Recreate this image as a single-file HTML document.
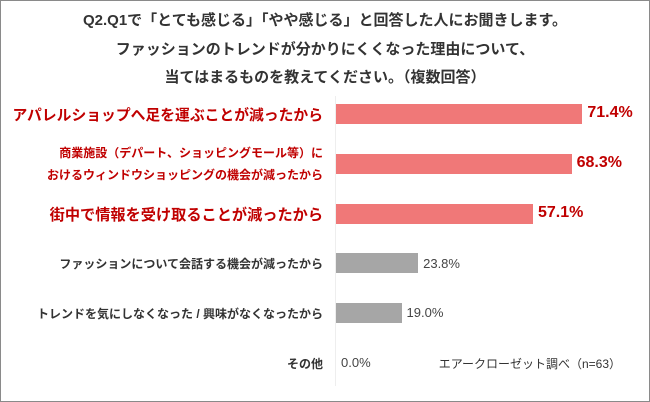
<!DOCTYPE html>
<html><head><meta charset="utf-8"><style>
body{margin:0;background:#fff;font-family:"Liberation Sans","Noto Sans CJK JP",sans-serif;}
#wrap{position:relative;width:648px;height:400px;border:1px solid #8a8a8a;overflow:hidden;}
.t{position:absolute;left:0;width:648px;text-align:center;font-weight:bold;font-size:15px;color:#333;}
.lab{position:absolute;right:326px;text-align:right;font-weight:bold;white-space:nowrap;}
.val{position:absolute;white-space:nowrap;}
</style></head><body>
<div id="wrap">
<div class="t" style="top:8px">Q2.Q1で「とても感じる」「やや感じる」と回答した人にお聞きします。</div>
<div class="t" style="top:37px">ファッションのトレンドが分かりにくくなった理由について、</div>
<div class="t" style="top:65px">当てはまるものを教えてください。（複数回答）</div>
<div style="position:absolute;left:334px;top:95px;width:1px;height:290px;background:#eee"></div>
<div style="position:absolute;right:28px;top:354px;font-size:12px;color:#333">エアークローゼット調べ（n=63）</div>
<div id="rows"></div>
</div>
<script>
const categories=["アパレルショップへ足を運ぶことが減ったから","商業施設（デパート、ショッピングモール等）に<br>おけるウィンドウショッピングの機会が減ったから","街中で情報を受け取ることが減ったから","ファッションについて会話する機会が減ったから","トレンドを気にしなくなった / 興味がなくなったから","その他"];
const values=[71.4,68.3,57.1,23.8,19.0,0.0];
const highlight=[true,true,true,false,false,false];
const x0=335,scale=3.45,y0=113,step=49.8,bh=20;
const xs=v=>x0+v*scale;
const wrap=document.getElementById('rows');
categories.forEach((c,i)=>{
 const cy=y0+i*step,hl=highlight[i];
 const lab=document.createElement('div');
 lab.className='lab';
 
 
 lab.innerHTML=c;
 let fs=hl?(i==1?12:(i==0?14.8:15.2)):12;
 lab.style.fontSize=fs+'px';
 lab.style.color=hl?'#c00000':'#333';
 if(i==1){lab.style.lineHeight='22px';lab.style.top=(cy-22)+'px';}
 else{lab.style.top=(cy-fs*0.7)+'px';}
 wrap.appendChild(lab);
 if(values[i]>0){
  const b=document.createElement('div');
  
  
  b.style.cssText=`position:absolute;left:${x0}px;top:${cy-bh/2}px;width:${xs(values[i])-x0}px;height:${bh}px;background:${hl?'#f07878':'#a6a6a6'}`;
  wrap.appendChild(b);
 }
 const v=document.createElement('div');
 v.className='val';
 
 
 v.textContent=values[i].toFixed(1)+'%';
 const vfs=hl?16:13;
 v.style.fontSize=vfs+'px';
 v.style.fontWeight=hl?'bold':'normal';
 v.style.color=hl?'#c00000':'#444';
 v.style.left=(xs(values[i])+5)+'px';
 v.style.top=(cy-vfs*0.6)+'px';
 wrap.appendChild(v);
});
</script>
</body></html>
